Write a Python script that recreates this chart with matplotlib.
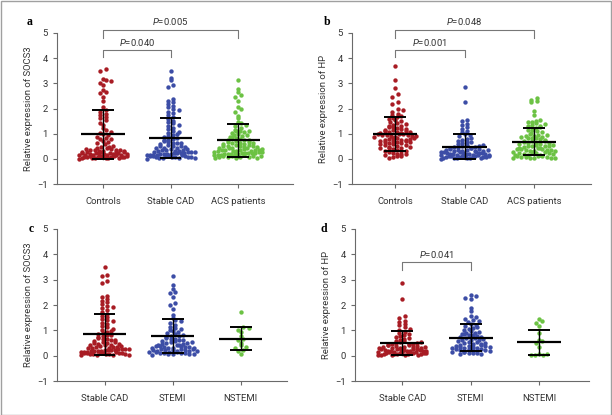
import numpy as np
import matplotlib
matplotlib.use("Agg")
import matplotlib.pyplot as plt
from matplotlib.patches import Rectangle

plt.rcParams['font.family'] = ['Liberation Sans Narrow', 'DejaVu Sans Condensed', 'Roboto', 'DejaVu Sans']
plt.rcParams['mathtext.fontset'] = 'custom'
plt.rcParams['mathtext.it'] = 'Roboto:italic'
plt.rcParams['mathtext.rm'] = 'Roboto'

# ---- data ----
socs3_controls = [3.56, 3.48, 3.18, 3.14, 3.1, 3.02, 2.93, 2.74, 2.66, 2.6, 2.47, 2.31, 2.06, 1.96,
                  1.87, 1.79, 1.74, 1.66, 1.61, 1.53, 1.44, 1.33, 1.24, 1.13, 1.06, 1.01, 0.97, 0.93,
                  0.87, 0.84, 0.79, 0.77, 0.71, 0.66, 0.61, 0.57, 0.53, 0.49, 0.47, 0.44, 0.42, 0.41,
                  0.38, 0.36, 0.35, 0.33, 0.31, 0.3, 0.29, 0.27, 0.26, 0.25, 0.24, 0.22, 0.21, 0.2,
                  0.19, 0.18, 0.17, 0.16, 0.15, 0.14, 0.13, 0.12, 0.11, 0.1, 0.09, 0.09, 0.08, 0.07,
                  0.06, 0.05, 0.04, 0.03, 0.03, 0.02, 0.01, 0.34, 0.28, 0.23, 0.19, 0.15, 0.12, 0.08,
                  0.05, 0.37, 0.26, 0.17]
socs3_stable = [3.5, 3.2, 3.14, 2.94, 2.87, 2.36, 2.31, 2.24, 2.17, 2.1, 2.04, 1.98, 1.93, 1.87,
                1.81, 1.74, 1.66, 1.58, 1.52, 1.46, 1.41, 1.36, 1.3, 1.24, 1.18, 1.12, 1.07, 1.02,
                0.98, 0.94, 0.9, 0.86, 0.83, 0.8, 0.76, 0.73, 0.7, 0.67, 0.64, 0.61, 0.58, 0.55,
                0.52, 0.5, 0.47, 0.45, 0.43, 0.41, 0.39, 0.37, 0.35, 0.33, 0.31, 0.3, 0.28, 0.27,
                0.25, 0.24, 0.22, 0.21, 0.2, 0.18, 0.17, 0.16, 0.15, 0.14, 0.13, 0.12, 0.11, 0.1,
                0.09, 0.08, 0.07, 0.06, 0.05, 0.04, 0.03, 0.02, 0.01, 0.44, 0.36, 0.29, 0.23, 0.19,
                0.15, 0.1, 0.06, 0.62, 0.53, 0.26]
socs3_stemi = [3.13, 2.78, 2.64, 2.52, 2.46, 2.31, 2.07, 2.0, 1.86, 1.62, 1.48, 1.42, 1.35, 1.3,
               1.22, 1.15, 1.1, 1.05, 1.0, 0.96, 0.92, 0.88, 0.85, 0.82, 0.79, 0.76, 0.73, 0.7,
               0.67, 0.64, 0.61, 0.58, 0.56, 0.53, 0.5, 0.48, 0.46, 0.44, 0.42, 0.4, 0.38, 0.36,
               0.34, 0.32, 0.3, 0.29, 0.27, 0.26, 0.24, 0.23, 0.21, 0.2, 0.19, 0.17, 0.16, 0.15,
               0.14, 0.12, 0.11, 0.1, 0.09, 0.08, 0.06, 0.05, 0.04, 0.5, 0.43, 0.37, 0.31, 0.25,
               0.18, 0.13, 0.07, 0.62, 0.55, 0.35, 0.22]
socs3_nstemi = [1.72, 1.12, 1.09, 1.03, 0.94, 0.76, 0.66, 0.6, 0.5, 0.42, 0.36, 0.3, 0.24, 0.2, 0.05]

hp_controls = [3.7, 3.12, 2.82, 2.57, 2.46, 2.24, 2.19, 1.99, 1.93, 1.86, 1.8, 1.76, 1.7, 1.66,
               1.62, 1.58, 1.53, 1.49, 1.45, 1.42, 1.38, 1.35, 1.32, 1.29, 1.26, 1.23, 1.2, 1.17,
               1.15, 1.12, 1.1, 1.08, 1.06, 1.04, 1.02, 1.0, 0.98, 0.96, 0.94, 0.92, 0.9, 0.88,
               0.86, 0.84, 0.82, 0.8, 0.78, 0.76, 0.74, 0.72, 0.7, 0.68, 0.66, 0.64, 0.62, 0.6,
               0.57, 0.54, 0.51, 0.48, 0.45, 0.42, 0.39, 0.36, 0.33, 0.3, 0.27, 0.24, 0.21, 0.18,
               0.15, 0.12, 0.1, 0.08, 0.05, 1.13, 1.05, 0.97, 0.89, 0.81, 0.73, 0.65, 0.55, 0.43,
               0.31, 0.2, 1.25, 0.93, 0.71, 0.47]
hp_stable = [2.87, 2.25, 1.55, 1.5, 1.38, 1.33, 1.26, 1.2, 1.12, 1.05, 1.0, 0.95, 0.9, 0.84, 0.8,
             0.76, 0.72, 0.68, 0.65, 0.62, 0.59, 0.56, 0.53, 0.51, 0.49, 0.47, 0.45, 0.43, 0.41,
             0.39, 0.37, 0.35, 0.34, 0.32, 0.31, 0.29, 0.28, 0.27, 0.25, 0.24, 0.23, 0.21, 0.2,
             0.19, 0.18, 0.17, 0.16, 0.15, 0.14, 0.13, 0.12, 0.11, 0.1, 0.09, 0.08, 0.07, 0.06,
             0.05, 0.04, 0.03, 0.02, 0.01, 0.42, 0.36, 0.3, 0.26, 0.22, 0.17, 0.13, 0.09, 0.05,
             0.02, 0.33, 0.19, 0.11, 0.48, 0.55]
hp_stemi = [2.4, 2.35, 2.28, 2.25, 1.9, 1.75, 1.56, 1.51, 1.46, 1.41, 1.36, 1.31, 1.26, 1.21,
            1.16, 1.12, 1.08, 1.04, 1.0, 0.96, 0.93, 0.9, 0.87, 0.84, 0.81, 0.78, 0.75, 0.72,
            0.69, 0.66, 0.63, 0.6, 0.58, 0.55, 0.52, 0.5, 0.47, 0.45, 0.42, 0.4, 0.38, 0.35,
            0.33, 0.31, 0.29, 0.27, 0.25, 0.23, 0.21, 0.19, 0.17, 0.15, 0.13, 0.11, 0.09, 0.07,
            0.05, 0.44, 0.36, 0.3, 0.22, 0.16, 0.1, 0.82, 0.71, 0.61, 0.53, 0.91, 0.39, 0.26]
hp_nstemi = [1.45, 1.38, 1.3, 1.16, 0.88, 0.62, 0.56, 0.5, 0.34, 0.08, 0.05, 0.03, 0.02, 0.02]

groups_ab = ["Controls", "Stable CAD", "ACS patients"]
groups_cd = ["Stable CAD", "STEMI", "NSTEMI"]

# mean and SD as drawn in the figure
mean_a = [0.97, 0.82, 0.73]; sd_a = [0.98, 0.80, 0.65]
mean_b = [1.00, 0.48, 0.68]; sd_b = [0.68, 0.49, 0.53]
mean_c = [0.85, 0.78, 0.67]; sd_c = [0.81, 0.68, 0.45]
mean_d = [0.49, 0.71, 0.53]; sd_d = [0.48, 0.54, 0.49]

red = "#a81c24"
blue = "#3c4da6"
green = "#6cc244"
colors = [red, blue, green]
FS = 6.8

W, H = 612, 415
fig = plt.figure(figsize=(W / 100, H / 100), dpi=100)
fig.patches.append(Rectangle((0.001, 0.001), 0.997, 0.996, transform=fig.transFigure,
                             fill=False, edgecolor="#a0a0a0", linewidth=1.0))


def swarm(vals, ppx, ppy, binh=3.6, half=24.0):
    # GraphPad-like layout: rows of side-by-side points, row width capped
    v = np.asarray(vals, float)
    bins = np.floor(v * ppy / binh).astype(int)
    out = np.zeros(len(v))
    for b in np.unique(bins):
        idx = np.where(bins == b)[0]
        idx = idx[np.argsort(v[idx])]
        n = len(idx)
        if n == 1:
            continue
        dx = 4.2 if n > 3 else 5.5
        step = min(dx, 2 * half / (n - 1))
        if b % 2 == 1 and n < 2 * half / dx:
            shift = dx / 2 if n % 2 == 1 else 0.0
        else:
            shift = 0.0
        pos = (np.arange(n) - (n - 1) / 2) * step + shift
        perm = [(j * 5) % n for j in range(n)] if n % 5 else [(j * 3) % n for j in range(n)]
        if n % 5 == 0 and n % 3 == 0:
            perm = list(range(n))
        for j, k in enumerate(idx):
            out[k] = pos[perm[j]] / ppx
    return out


def panel(rect, xlim, data, names, means, sds, ylabel, letter, letter_xy):
    ax = fig.add_axes(rect)
    ax.set_xlim(*xlim)
    ax.set_ylim(-1, 5)
    ppx = rect[2] * W / (xlim[1] - xlim[0])
    ppy = rect[3] * H / 6.0
    for i, vals in enumerate(data):
        off = swarm(vals, ppx, ppy)
        ax.scatter(i + off, vals, s=10, color=colors[i], linewidths=0, zorder=2, clip_on=False)
        m, s = means[i], sds[i]
        ax.plot([i - 0.32, i + 0.32], [m, m], color="black", lw=1.6, zorder=3, solid_capstyle="butt")
        ax.plot([i - 0.16, i + 0.16], [m + s, m + s], color="black", lw=1.4, zorder=3, solid_capstyle="butt")
        ax.plot([i - 0.16, i + 0.16], [m - s, m - s], color="black", lw=1.4, zorder=3, solid_capstyle="butt")
        ax.plot([i, i], [m - s, m + s], color="black", lw=1.0, zorder=3)
    for sp in ["top", "right"]:
        ax.spines[sp].set_visible(False)
    for sp in ["left", "bottom"]:
        ax.spines[sp].set_color("#6a6a6a")
        ax.spines[sp].set_linewidth(0.8)
    ax.set_yticks(range(-1, 6))
    ax.set_xticks(range(len(names)))
    ax.set_xticklabels(names)
    ax.tick_params(colors="#6a6a6a", labelcolor="#333333", labelsize=FS, length=3, width=0.8)
    ax.tick_params(axis="x", pad=6)
    ax.set_ylabel(ylabel, fontsize=FS, color="#333333", labelpad=3)
    fig.text(letter_xy[0], letter_xy[1], letter, fontsize=8.5, fontweight="bold",
             family="Liberation Serif", ha="center", va="center")
    return ax


def bracket(ax, x0, x1, y, drop, label, ly):
    ax.plot([x0, x0, x1, x1], [y - drop, y, y, y - drop], color="#777777", lw=0.8, clip_on=False)
    ax.text((x0 + x1) / 2, ly, label, ha="center", va="center", fontsize=FS, color="#333333")


ax_a = panel([0.0931, 0.5566, 0.3856, 0.3639], (-0.68, 2.81),
             [socs3_controls, socs3_stable, socs3_stemi + socs3_nstemi], groups_ab,
             mean_a, sd_a, "Relative expression of SOCS3", "a", (0.049, 0.947))
bracket(ax_a, 0, 2, 5.1, 0.3, r"$\mathit{P}$=0.005", 5.47)
bracket(ax_a, 0, 1, 4.32, 0.27, r"$\mathit{P}$=0.040", 4.64)

ax_b = panel([0.5752, 0.5566, 0.3905, 0.3639], (-0.62, 2.82),
             [hp_controls, hp_stable, hp_stemi + hp_nstemi], groups_ab,
             mean_b, sd_b, "Relative expression of HP", "b", (0.535, 0.947))
bracket(ax_b, 0, 2, 5.1, 0.3, r"$\mathit{P}$=0.048", 5.47)
bracket(ax_b, 0, 1, 4.32, 0.29, r"$\mathit{P}$=0.001", 4.64)

ax_c = panel([0.0931, 0.0819, 0.3758, 0.3663], (-0.70, 2.68),
             [socs3_stable, socs3_stemi, socs3_nstemi], groups_cd,
             mean_c, sd_c, "Relative expression of SOCS3", "c", (0.051, 0.448))
ax_d = panel([0.5801, 0.0819, 0.3824, 0.3663], (-0.69, 2.73),
             [hp_stable, hp_stemi, hp_nstemi], groups_cd,
             mean_d, sd_d, "Relative expression of HP", "d", (0.529, 0.448))
bracket(ax_d, 0, 1, 3.70, 0.32, r"$\mathit{P}$=0.041", 4.01)

fig.savefig("out.png", dpi=100)
